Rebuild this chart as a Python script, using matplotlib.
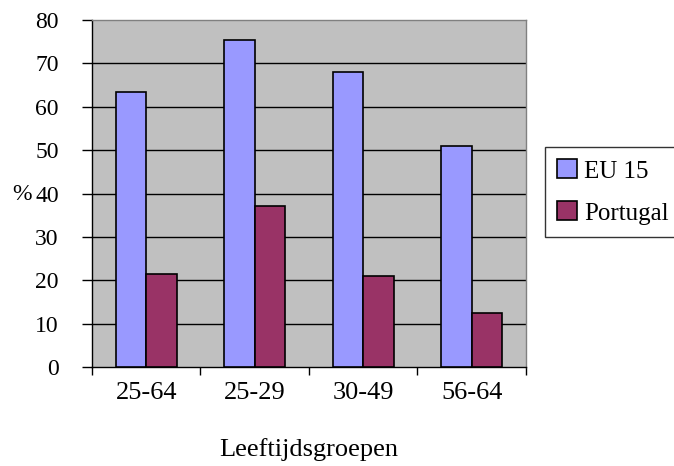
import matplotlib.pyplot as plt
import numpy as np

# age groups and shares (%)
groups = ['25-64', '25-29', '30-49', '56-64']
eu15 = [63.5, 75.5, 68, 51]
portugal = [21.5, 37.2, 21, 12.5]

plt.rcParams['font.family'] = ['Liberation Serif', 'DejaVu Serif']

fig = plt.figure(figsize=(6.74, 4.66), dpi=100)
ax = fig.add_axes([0.1365, 0.2124, 0.6439, 0.7446])
ax.set_facecolor('#C0C0C0')

x = np.arange(len(groups))
w = 0.28
ax.bar(x - w / 2, eu15, w, color='#9999FF', edgecolor='black', linewidth=1.2,
       label='EU 15', zorder=3)
ax.bar(x + w / 2, portugal, w, color='#993366', edgecolor='black', linewidth=1.2,
       label='Portugal', zorder=3)

ax.set_xlim(-0.5, len(groups) - 0.5)
ax.set_ylim(0, 80)

# horizontal grid in black
for yv in range(10, 80, 10):
    ax.axhline(yv, color='black', linewidth=1.0, zorder=1)

ax.spines['top'].set_color('#808080')
ax.spines['right'].set_color('#808080')
ax.spines['left'].set_color('black')
ax.spines['bottom'].set_color('black')
for s in ax.spines.values():
    s.set_linewidth(1.0)

ax.set_yticks(range(0, 81, 10))
ax.tick_params(axis='y', direction='out', length=7, width=1.0, pad=17,
               labelsize=17)

ax.set_xticks(x)
ax.set_xticklabels(groups)
ax.tick_params(axis='x', which='major', length=0, pad=11, labelsize=19)
ax.set_xticks(np.arange(-0.5, len(groups), 1.0), minor=True)
ax.tick_params(axis='x', which='minor', direction='out', length=6, width=1.0)

ax.set_xlabel('Leeftijdsgroepen', fontsize=19, labelpad=24)
fig.text(0.018, 0.582, '%', fontsize=17, ha='left', va='center')

leg = fig.legend(loc='lower left', bbox_to_anchor=(0.8086, 0.4914),
                 borderaxespad=0, fontsize=18, frameon=True, fancybox=False,
                 handlelength=0.8, handleheight=0.8, handletextpad=0.25,
                 labelspacing=0.75, borderpad=0.5)
leg.get_frame().set_edgecolor('black')
leg.get_frame().set_linewidth(1.0)

fig.savefig('out.png', dpi=100)
